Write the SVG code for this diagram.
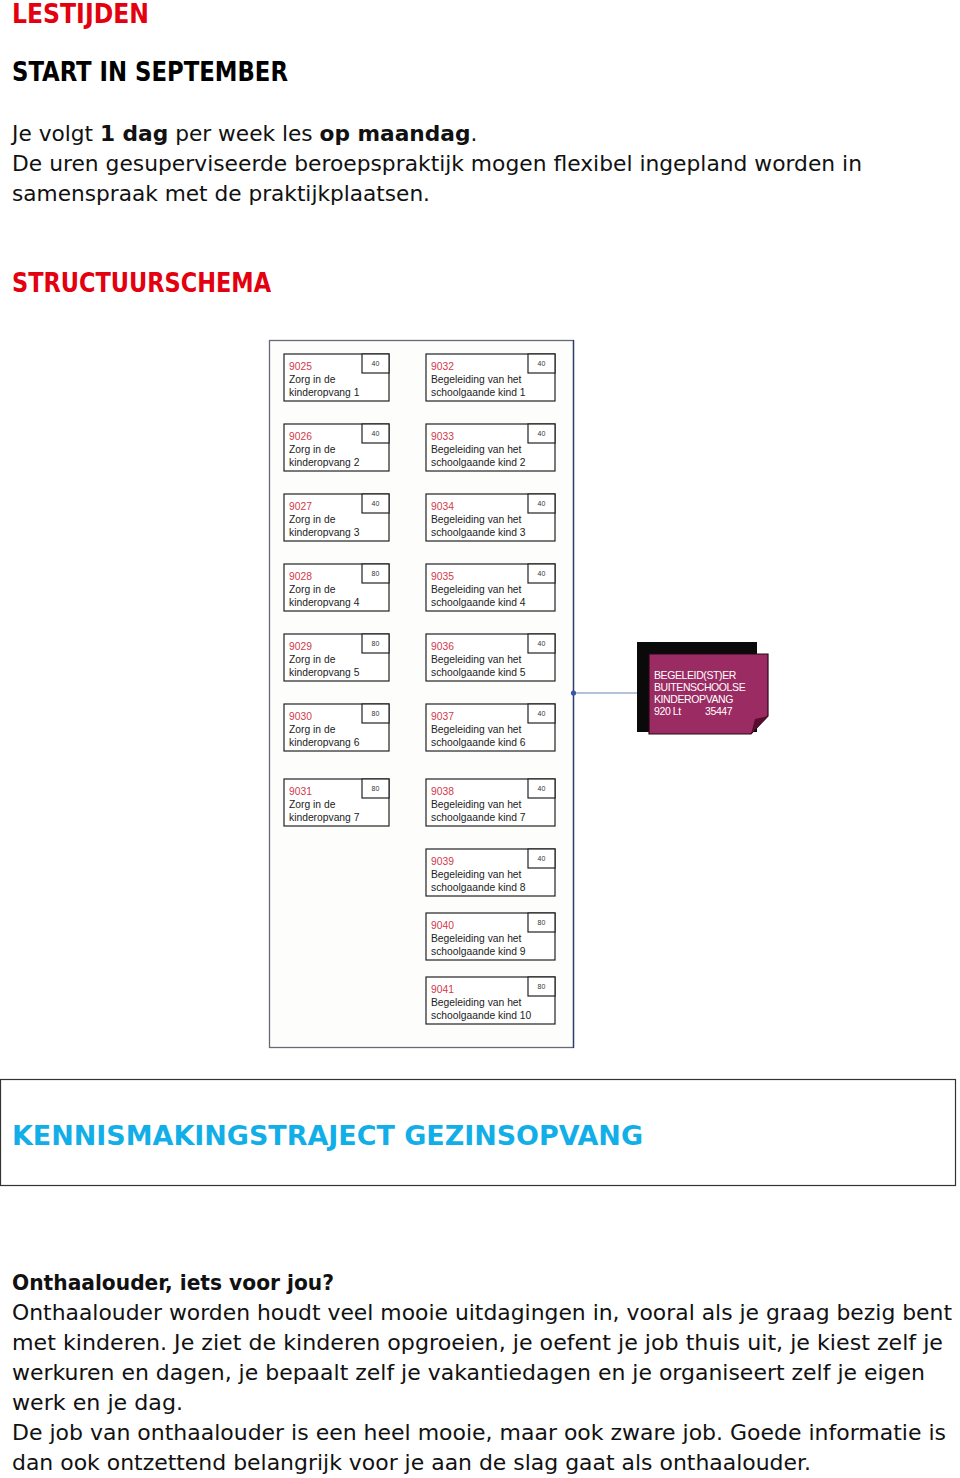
<svg xmlns="http://www.w3.org/2000/svg" width="960" height="1478" viewBox="0 0 960 1478">
<style>
.h{font-family:"DejaVu Sans Condensed","DejaVu Sans",sans-serif;font-weight:bold;font-size:26px}
.red{fill:#e3000f}
.blk{fill:#000}
.blue{fill:#12aee8}
.b{font-family:"DejaVu Sans",sans-serif;font-size:21.7px;fill:#111}
.bb{font-weight:bold}
.pt{font-family:"DejaVu Sans Condensed","DejaVu Sans",sans-serif;font-weight:bold;font-size:22px;fill:#111}
.box{fill:#fff;stroke:#222;stroke-width:1.2}
.code{font-family:"Liberation Sans",Arial,sans-serif;font-size:10.3px;fill:#d23a4a}
.lbl{font-family:"Liberation Sans",Arial,sans-serif;font-size:10.3px;fill:#222}
.num{font-family:"Liberation Sans",Arial,sans-serif;font-size:7px;fill:#333;text-anchor:middle}
.wt{font-family:"Liberation Sans",Arial,sans-serif;font-size:10.5px;fill:#fff;letter-spacing:-0.4px}
</style>
<rect width="960" height="1478" fill="#fff"/>

<g id="intro">
<text class="h red" x="12" y="22.5" font-size="25" textLength="137" lengthAdjust="spacingAndGlyphs">LESTIJDEN</text>
<text class="h blk" x="12" y="81" textLength="276" lengthAdjust="spacingAndGlyphs">START IN SEPTEMBER</text>
<text class="b" x="12" y="141">Je volgt <tspan class="bb">1 dag</tspan> per week les <tspan class="bb">op maandag</tspan>.</text>
<text class="b" x="12" y="171" textLength="850" lengthAdjust="spacingAndGlyphs">De uren gesuperviseerde beroepspraktijk mogen flexibel ingepland worden in</text>
<text class="b" x="12" y="201" textLength="418" lengthAdjust="spacingAndGlyphs">samenspraak met de praktijkplaatsen.</text>
<text class="h red" x="12" y="292" textLength="259" lengthAdjust="spacingAndGlyphs">STRUCTUURSCHEMA</text>
</g>

<g id="frame">
<rect x="269.5" y="340.5" width="304" height="707" fill="#fdfdfb" stroke="#666a75" stroke-width="1.3"/>
</g>

<g id="connectors">
<line x1="573.5" y1="340" x2="573.5" y2="1048" stroke="#2c3a6e" stroke-width="1.3"/>
<line x1="573.5" y1="693" x2="649" y2="693" stroke="#6c84b4" stroke-width="1.2"/>
<circle cx="573.5" cy="693" r="2.6" fill="#3a55a8"/>
</g>

<g id="n9025" transform="translate(284,354)"><rect class="box" width="105" height="47"/><rect class="box" x="78" width="27" height="19"/><text class="num" x="91.5" y="11.5">40</text><text class="code" x="5" y="16">9025</text><text class="lbl" x="5" y="29">Zorg in de</text><text class="lbl" x="5" y="42">kinderopvang 1</text></g>
<g id="n9026" transform="translate(284,424)"><rect class="box" width="105" height="47"/><rect class="box" x="78" width="27" height="19"/><text class="num" x="91.5" y="11.5">40</text><text class="code" x="5" y="16">9026</text><text class="lbl" x="5" y="29">Zorg in de</text><text class="lbl" x="5" y="42">kinderopvang 2</text></g>
<g id="n9027" transform="translate(284,494)"><rect class="box" width="105" height="47"/><rect class="box" x="78" width="27" height="19"/><text class="num" x="91.5" y="11.5">40</text><text class="code" x="5" y="16">9027</text><text class="lbl" x="5" y="29">Zorg in de</text><text class="lbl" x="5" y="42">kinderopvang 3</text></g>
<g id="n9028" transform="translate(284,564)"><rect class="box" width="105" height="47"/><rect class="box" x="78" width="27" height="19"/><text class="num" x="91.5" y="11.5">80</text><text class="code" x="5" y="16">9028</text><text class="lbl" x="5" y="29">Zorg in de</text><text class="lbl" x="5" y="42">kinderopvang 4</text></g>
<g id="n9029" transform="translate(284,634)"><rect class="box" width="105" height="47"/><rect class="box" x="78" width="27" height="19"/><text class="num" x="91.5" y="11.5">80</text><text class="code" x="5" y="16">9029</text><text class="lbl" x="5" y="29">Zorg in de</text><text class="lbl" x="5" y="42">kinderopvang 5</text></g>
<g id="n9030" transform="translate(284,704)"><rect class="box" width="105" height="47"/><rect class="box" x="78" width="27" height="19"/><text class="num" x="91.5" y="11.5">80</text><text class="code" x="5" y="16">9030</text><text class="lbl" x="5" y="29">Zorg in de</text><text class="lbl" x="5" y="42">kinderopvang 6</text></g>
<g id="n9031" transform="translate(284,779)"><rect class="box" width="105" height="47"/><rect class="box" x="78" width="27" height="19"/><text class="num" x="91.5" y="11.5">80</text><text class="code" x="5" y="16">9031</text><text class="lbl" x="5" y="29">Zorg in de</text><text class="lbl" x="5" y="42">kinderopvang 7</text></g>

<g id="n9032" transform="translate(426,354)"><rect class="box" width="129" height="47"/><rect class="box" x="102" width="27" height="19"/><text class="num" x="115.5" y="11.5">40</text><text class="code" x="5" y="16">9032</text><text class="lbl" x="5" y="29">Begeleiding van het</text><text class="lbl" x="5" y="42">schoolgaande kind 1</text></g>
<g id="n9033" transform="translate(426,424)"><rect class="box" width="129" height="47"/><rect class="box" x="102" width="27" height="19"/><text class="num" x="115.5" y="11.5">40</text><text class="code" x="5" y="16">9033</text><text class="lbl" x="5" y="29">Begeleiding van het</text><text class="lbl" x="5" y="42">schoolgaande kind 2</text></g>
<g id="n9034" transform="translate(426,494)"><rect class="box" width="129" height="47"/><rect class="box" x="102" width="27" height="19"/><text class="num" x="115.5" y="11.5">40</text><text class="code" x="5" y="16">9034</text><text class="lbl" x="5" y="29">Begeleiding van het</text><text class="lbl" x="5" y="42">schoolgaande kind 3</text></g>
<g id="n9035" transform="translate(426,564)"><rect class="box" width="129" height="47"/><rect class="box" x="102" width="27" height="19"/><text class="num" x="115.5" y="11.5">40</text><text class="code" x="5" y="16">9035</text><text class="lbl" x="5" y="29">Begeleiding van het</text><text class="lbl" x="5" y="42">schoolgaande kind 4</text></g>
<g id="n9036" transform="translate(426,634)"><rect class="box" width="129" height="47"/><rect class="box" x="102" width="27" height="19"/><text class="num" x="115.5" y="11.5">40</text><text class="code" x="5" y="16">9036</text><text class="lbl" x="5" y="29">Begeleiding van het</text><text class="lbl" x="5" y="42">schoolgaande kind 5</text></g>
<g id="n9037" transform="translate(426,704)"><rect class="box" width="129" height="47"/><rect class="box" x="102" width="27" height="19"/><text class="num" x="115.5" y="11.5">40</text><text class="code" x="5" y="16">9037</text><text class="lbl" x="5" y="29">Begeleiding van het</text><text class="lbl" x="5" y="42">schoolgaande kind 6</text></g>
<g id="n9038" transform="translate(426,779)"><rect class="box" width="129" height="47"/><rect class="box" x="102" width="27" height="19"/><text class="num" x="115.5" y="11.5">40</text><text class="code" x="5" y="16">9038</text><text class="lbl" x="5" y="29">Begeleiding van het</text><text class="lbl" x="5" y="42">schoolgaande kind 7</text></g>
<g id="n9039" transform="translate(426,849)"><rect class="box" width="129" height="47"/><rect class="box" x="102" width="27" height="19"/><text class="num" x="115.5" y="11.5">40</text><text class="code" x="5" y="16">9039</text><text class="lbl" x="5" y="29">Begeleiding van het</text><text class="lbl" x="5" y="42">schoolgaande kind 8</text></g>
<g id="n9040" transform="translate(426,913)"><rect class="box" width="129" height="47"/><rect class="box" x="102" width="27" height="19"/><text class="num" x="115.5" y="11.5">80</text><text class="code" x="5" y="16">9040</text><text class="lbl" x="5" y="29">Begeleiding van het</text><text class="lbl" x="5" y="42">schoolgaande kind 9</text></g>
<g id="n9041" transform="translate(426,977)"><rect class="box" width="129" height="47"/><rect class="box" x="102" width="27" height="19"/><text class="num" x="115.5" y="11.5">80</text><text class="code" x="5" y="16">9041</text><text class="lbl" x="5" y="29">Begeleiding van het</text><text class="lbl" x="5" y="42">schoolgaande kind 10</text></g>

<g id="n920">
<rect x="637" y="642" width="120" height="90" fill="#0a0a0a"/>
<polygon points="649,654 768,654 768,716 751,734 649,734" fill="#9b2c63" stroke="#2a0616" stroke-width="1.2"/>
<polygon points="768,716 751,734 755,719" fill="#5a0c32"/>
<text class="wt" x="654" y="679">BEGELEID(ST)ER</text>
<text class="wt" x="654" y="691">BUITENSCHOOLSE</text>
<text class="wt" x="654" y="703">KINDEROPVANG</text>
<text class="wt" x="654" y="715">920 Lt</text>
<text class="wt" x="705" y="715">35447</text>
</g>

<g id="section2">
<rect x="0.5" y="1079.5" width="955" height="106" fill="#fff" stroke="#333" stroke-width="1.2"/>
<text class="h blue" x="12" y="1145" textLength="631" lengthAdjust="spacingAndGlyphs">KENNISMAKINGSTRAJECT GEZINSOPVANG</text>
</g>

<g id="outro">
<text class="pt" x="12" y="1290" textLength="322" lengthAdjust="spacingAndGlyphs">Onthaalouder, iets voor jou?</text>
<text class="b" x="12" y="1320" textLength="940" lengthAdjust="spacingAndGlyphs">Onthaalouder worden houdt veel mooie uitdagingen in, vooral als je graag bezig bent</text>
<text class="b" x="12" y="1350" textLength="931" lengthAdjust="spacingAndGlyphs">met kinderen. Je ziet de kinderen opgroeien, je oefent je job thuis uit, je kiest zelf je</text>
<text class="b" x="12" y="1380" textLength="913" lengthAdjust="spacingAndGlyphs">werkuren en dagen, je bepaalt zelf je vakantiedagen en je organiseert zelf je eigen</text>
<text class="b" x="12" y="1410" textLength="171" lengthAdjust="spacingAndGlyphs">werk en je dag.</text>
<text class="b" x="12" y="1440" textLength="934" lengthAdjust="spacingAndGlyphs">De job van onthaalouder is een heel mooie, maar ook zware job. Goede informatie is</text>
<text class="b" x="12" y="1470" textLength="799" lengthAdjust="spacingAndGlyphs">dan ook ontzettend belangrijk voor je aan de slag gaat als onthaalouder.</text>
</g>
</svg>
